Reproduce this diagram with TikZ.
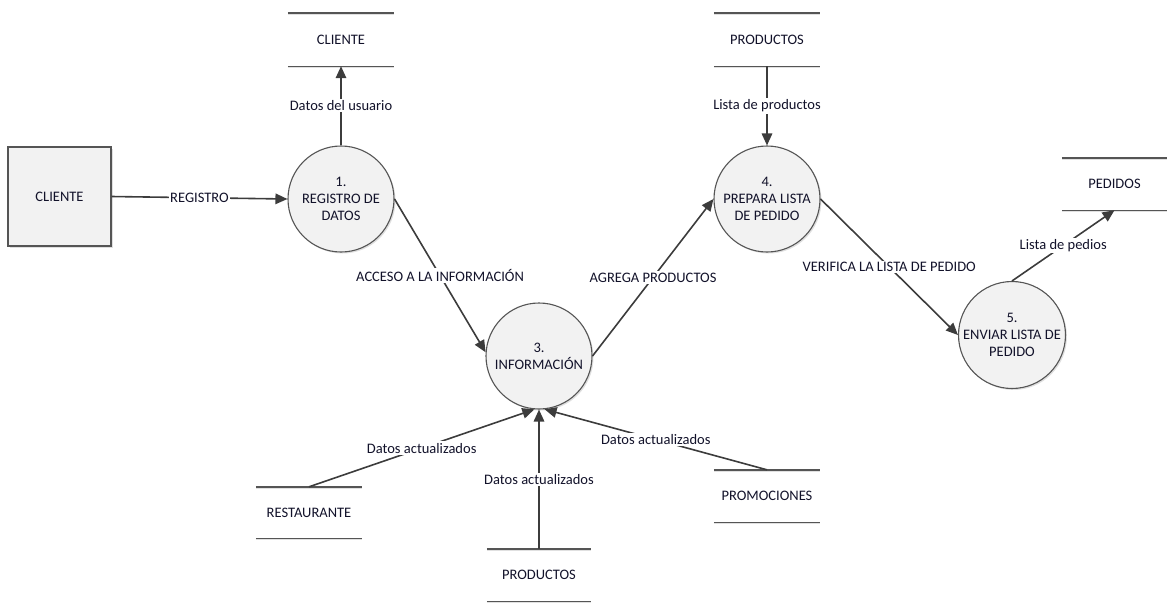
\documentclass[tikz,border=0pt]{standalone}
\usepackage{fontspec}
\setmainfont{Carlito}
\usetikzlibrary{arrows.meta,shadows}
\definecolor{inkline}{HTML}{3C3C3C}
\definecolor{outline}{HTML}{555555}
\definecolor{txt}{HTML}{12122A}
\definecolor{shapefill}{HTML}{F2F2F2}
\begin{document}
\begin{tikzpicture}[x=1pt,y=-1pt,
  every node/.style={font=\fontsize{14.5}{17}\selectfont, text=txt},
  process/.style={circle, draw=outline, line width=1.1pt, fill=shapefill,
    minimum size=106pt, inner sep=0pt, align=center,
    drop shadow={shadow xshift=1.5pt, shadow yshift=-1.5pt, opacity=0.25}},
  entity/.style={rectangle, draw=outline, line width=1.1pt, fill=shapefill,
    minimum width=103pt, minimum height=99pt, inner sep=0pt,
    drop shadow={shadow xshift=2pt, shadow yshift=-2pt, opacity=0.25}},
  storeline/.style={-, draw=outline, line width=1.4pt},
  storeshade/.style={-, draw=black!12, line width=1pt},
  datastore/.style={minimum width=106pt, minimum height=53pt, inner sep=0pt,
    append after command={
      ([yshift=-1.6pt]\tikzlastnode.north west) edge[storeshade] ([yshift=-1.6pt]\tikzlastnode.north east)
      ([yshift=-1.6pt]\tikzlastnode.south west) edge[storeshade] ([yshift=-1.6pt]\tikzlastnode.south east)
      (\tikzlastnode.north west) edge[storeline] (\tikzlastnode.north east)
      (\tikzlastnode.south west) edge[storeline] (\tikzlastnode.south east)}},
  flow/.style={draw=inkline, line width=1.6pt,
    -{Triangle[length=12pt,width=10.5pt]}},
  flowlabel/.style={fill=white, inner sep=1.5pt}]

\useasboundingbox (0,0) rectangle (1167,603);

% external entity
\node[entity] (cliente) at (59.5,196.5) {CLIENTE};

% processes
\node[process] (p1) at (341,199) {1.\\REGISTRO DE\\DATOS};
\node[process] (p3) at (539,356) {3.\\INFORMACIÓN};
\node[process] (p4) at (767,199) {4.\\PREPARA LISTA\\DE PEDIDO};
\node[process] (p5) at (1012,335) {5.\\ENVIAR LISTA DE\\PEDIDO};

% data stores
\node[datastore] (dsCliente) at (341,39.5) {CLIENTE};
\node[datastore] (dsProductosTop) at (767,39.5) {PRODUCTOS};
\node[datastore, minimum width=105pt, minimum height=52pt] (dsPedidos) at (1114.5,184) {PEDIDOS};
\node[datastore, minimum height=51pt] (dsRestaurante) at (309,512.5) {RESTAURANTE};
\node[datastore, minimum height=52pt] (dsPromociones) at (767,496) {PROMOCIONES};
\node[datastore, minimum width=104pt, minimum height=52pt] (dsProductosBot) at (539,575) {PRODUCTOS};

% data flows
\draw[flow] (cliente.east) -- node[flowlabel] {REGISTRO} (p1.west);
\draw[flow] (p1.north) -- node[flowlabel] {Datos del usuario} (dsCliente.south);
\draw[flow] (p1.east) -- node[flowlabel] {ACCESO A LA INFORMACIÓN} (p3.176);
\draw[flow] (p3.east) -- node[flowlabel] {AGREGA PRODUCTOS} (p4.west);
\draw[flow] (dsProductosTop.south) -- node[flowlabel] {Lista de productos} (p4.north);
\draw[flow] (p4.east) -- node[flowlabel] {VERIFICA LA LISTA DE PEDIDO} (p5.west);
\draw[flow] (p5.north) -- node[flowlabel] {Lista de pedios} (dsPedidos.south);
\draw[flow] (dsRestaurante.north) -- node[flowlabel] {Datos actualizados} (p3.265);
\draw[flow] (dsProductosBot.north) -- node[flowlabel] {Datos actualizados} (p3.south);
\draw[flow] (dsPromociones.north) -- node[flowlabel] {Datos actualizados} (p3.276);

\end{tikzpicture}
\end{document}
